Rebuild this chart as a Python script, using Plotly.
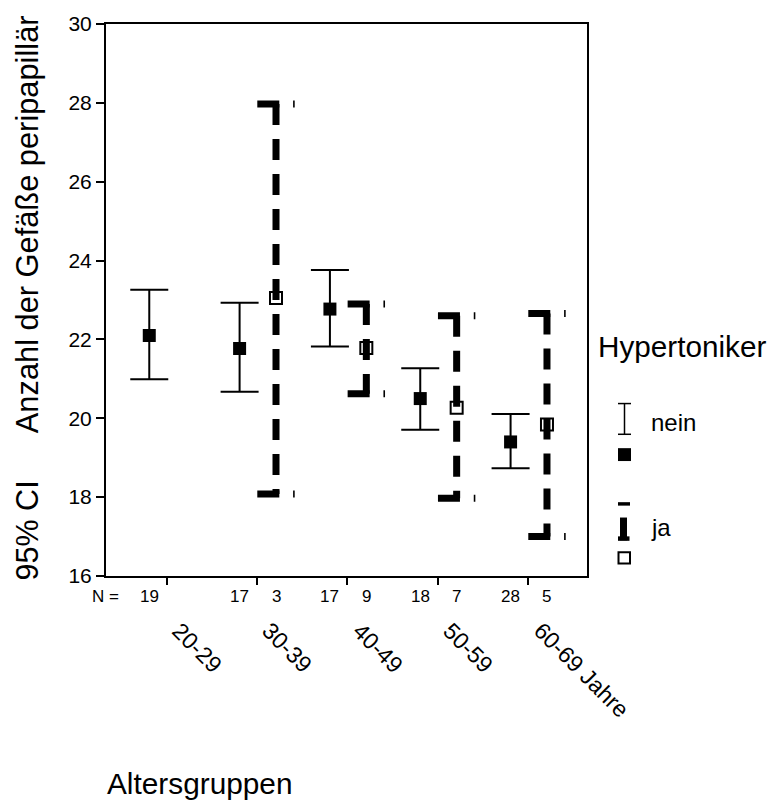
import plotly.graph_objects as go

# ---------------- data ----------------
categories = ["20-29", "30-39", "40-49", "50-59", "60-69 Jahre"]
nein_mean = [22.10, 21.77, 22.77, 20.50, 19.40]
nein_lo = [20.99, 20.67, 21.82, 19.71, 18.73]
nein_hi = [23.26, 22.93, 23.76, 21.27, 20.11]
ja_mean = [None, 23.05, 21.78, 20.27, 19.84]
ja_lo = [None, 18.08, 20.62, 17.97, 17.00]
ja_hi = [None, 27.97, 22.90, 22.60, 22.66]
n_nein = [19, 17, 17, 18, 28]
n_ja = [None, 3, 9, 7, 5]
yticks = [16, 18, 20, 22, 24, 26, 28, 30]

# ---------------- layout geometry ----------------
W, H = 772, 802
L, R, T, B = 106, 587, 19, 576
OFF_NEIN = -0.193
OFF_JA = 0.21
CAP = 0.207
FONT = "Liberation Sans, Arial, Helvetica, sans-serif"


def px(x):
    return (x - L) / (R - L)


def py(y):
    return (B - y) / (B - T)


xs = list(range(len(categories)))
x_nein = [i + OFF_NEIN for i in xs]
x_ja = [i + OFF_JA for i in xs]

fig = go.Figure()

# nein: solid error bars with filled squares
fig.add_trace(go.Scatter(
    x=x_nein, y=nein_mean, mode="markers",
    marker=dict(symbol="square", size=13, color="black"),
    error_y=dict(type="data", symmetric=False,
                 array=[h - m for h, m in zip(nein_hi, nein_mean)],
                 arrayminus=[m - l for m, l in zip(nein_mean, nein_lo)],
                 color="black", thickness=2, width=19),
    showlegend=False, hoverinfo="skip"))

# ja: thick dashed error bars with open squares
for i in xs:
    if ja_mean[i] is None:
        continue
    xj = x_ja[i]
    fig.add_trace(go.Scatter(x=[xj, xj], y=[ja_hi[i], ja_lo[i]], mode="lines",
                             line=dict(color="black", width=7, dash="21px,14px"),
                             showlegend=False, hoverinfo="skip"))
    for yv in (ja_hi[i], ja_lo[i]):
        fig.add_trace(go.Scatter(x=[xj - CAP, xj + CAP], y=[yv, yv], mode="lines",
                                 line=dict(color="black", width=7, dash="22px,13.8px"),
                                 showlegend=False, hoverinfo="skip"))

fig.add_trace(go.Scatter(
    x=[x for x, m in zip(x_ja, ja_mean) if m is not None],
    y=[m for m in ja_mean if m is not None], mode="markers",
    marker=dict(symbol="square-open", size=12, color="black",
                line=dict(width=2, color="black")),
    showlegend=False, hoverinfo="skip"))

annotations = []


def ann(text, x, y, size, xref="paper", xanchor="center", yanchor="middle",
        angle=0, xshift=0):
    annotations.append(dict(x=x, y=y, xref=xref, yref="paper", text=text,
                            showarrow=False, xanchor=xanchor, yanchor=yanchor,
                            textangle=angle, xshift=xshift,
                            font=dict(size=size, color="black", family=FONT)))


# N row
ann("N =", px(105), py(597), 17)
for i in xs:
    ann(str(n_nein[i]), x_nein[i], py(597), 17, xref="x")
    if n_ja[i] is not None:
        ann(str(n_ja[i]), x_ja[i], py(597), 17, xref="x")

# category labels (rotated)
for i, c in enumerate(categories):
    ann(c, i, py(615), 23, xref="x", xanchor="left", yanchor="top",
        angle=45, xshift=-2)

# y title (two parts)
ann("95% CI", px(27), py(530), 30.5, angle=-90)
ann("Anzahl der Gefäße peripapillär", px(27), py(221), 30.8, angle=-90)
# x title
ann("Altersgruppen", px(200), py(785), 29.8)
# legend
ann("Hypertoniker", px(596), py(344), 29.7, xanchor="left")
ann("nein", px(649), py(421), 24, xanchor="left")
ann("ja", px(649), py(527), 24, xanchor="left")

shapes = []


def line_px(x0, y0, x1, y1, w):
    shapes.append(dict(type="line", xref="paper", yref="paper",
                       x0=px(x0), y0=py(y0), x1=px(x1), y1=py(y1),
                       line=dict(color="black", width=w)))


def rect_px(x0, y0, x1, y1, fill="black", lw=0):
    shapes.append(dict(type="rect", xref="paper", yref="paper",
                       x0=px(x0), y0=py(y0), x1=px(x1), y1=py(y1),
                       fillcolor=fill, line=dict(color="black", width=lw)))


# legend glyph nein
line_px(624.5, 402, 624.5, 433, 1.5)
line_px(618, 402, 631, 402, 1.5)
line_px(618, 433, 631, 433, 1.5)
rect_px(618, 447, 631, 460)
# legend glyph ja
rect_px(618, 501.5, 630, 505)
rect_px(620, 517, 627, 540)
rect_px(618, 536, 629.5, 540.5)
rect_px(618.5, 552, 630, 563.5, fill="white", lw=2)

fig.update_layout(
    width=W, height=H,
    margin=dict(l=L, r=W - R, t=T, b=H - B, pad=0),
    paper_bgcolor="white", plot_bgcolor="white",
    font=dict(family=FONT, color="black"),
    showlegend=False,
    annotations=annotations, shapes=shapes,
    xaxis=dict(range=[-0.672, 4.653], tickvals=xs, ticktext=[""] * len(xs),
               showline=True, linecolor="black", linewidth=2, mirror=True,
               ticks="outside", ticklen=7, tickwidth=2, tickcolor="black",
               showgrid=False, zeroline=False, fixedrange=True),
    yaxis=dict(range=[16, 30], tickvals=yticks,
               showline=True, linecolor="black", linewidth=2, mirror=True,
               ticks="outside", ticklen=8, tickwidth=1.5, tickcolor="black",
               tickfont=dict(size=21, color="black", family=FONT),
               showgrid=False, zeroline=False, fixedrange=True),
)

fig.write_html("out.html", config={"displayModeBar": False},
               post_script="document.body.style.margin='0';")
